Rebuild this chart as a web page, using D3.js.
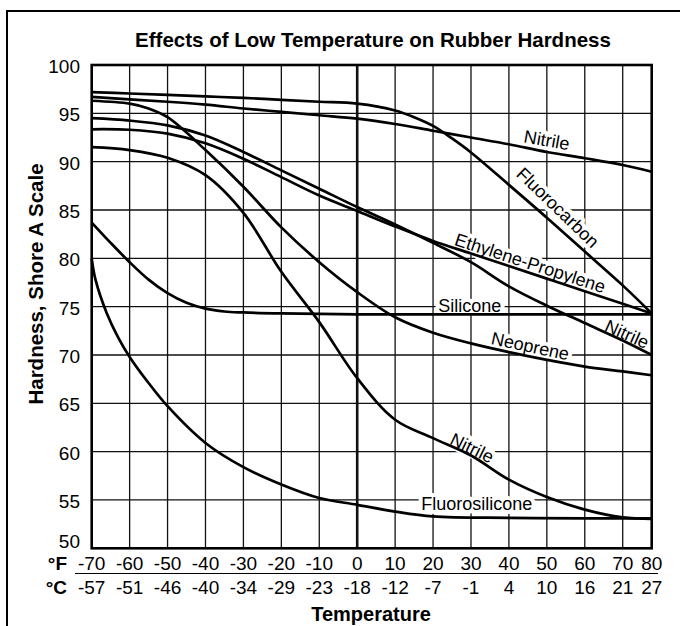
<!DOCTYPE html>
<meta charset="utf-8">
<style>
  body { margin: 0; background: #fff; }
  svg { display: block; font-family: "Liberation Sans", Arial, Helvetica, sans-serif; }
</style>
<svg width="680" height="626"></svg>
<script src="https://d3js.org/d3.v7.min.js"></script>
<script>

// tick labels
var tempF = [-70, -60, -50, -40, -30, -20, -10, 0, 10, 20, 30, 40, 50, 60, 70, 80];
var tempC = [-57, -51, -46, -40, -34, -29, -23, -18, -12, -7, -1, 4, 10, 16, 21, 27];
var hardTicks = [50, 55, 60, 65, 70, 75, 80, 85, 90, 95, 100];

// curves: [°F, Shore A]
var fluorocarbon = [[-70,97.2],[-60,97.05],[-50,96.9],[-40,96.75],[-30,96.6],[-20,96.4],[-10,96.2],[0,96.0],[10,95.3],[15,94.6],[20,93.7],[25,92.4],[30,90.95],[40,87.6],[50,84.2],[60,80.7],[70,77.2],[80,74.3]];
var nitrileTop = [[-70,96.7],[-60,96.45],[-50,96.2],[-40,95.9],[-30,95.5],[-20,95.15],[-10,94.8],[0,94.45],[10,93.9],[20,93.2],[30,92.5],[40,91.8],[50,91.0],[60,90.35],[70,89.65],[80,88.95]];
var neoprene = [[-70,96.3],[-60,96.0],[-55,95.5],[-50,94.6],[-40,91.2],[-30,87.4],[-20,83.2],[-10,79.6],[0,76.5],[10,73.9],[20,72.3],[30,71.2],[40,70.3],[50,69.5],[60,68.8],[70,68.3],[80,67.9]];
var nitrileMid = [[-70,94.5],[-60,94.25],[-50,93.75],[-40,92.7],[-30,91.0],[-20,89.1],[-10,87.2],[0,85.3],[10,83.5],[20,81.6],[30,79.6],[40,77.1],[50,75.1],[60,73.3],[70,71.5],[80,70.0]];
var ethylenePropylene = [[-70,93.35],[-60,93.3],[-50,92.9],[-40,91.9],[-30,90.3],[-20,88.4],[-10,86.5],[0,84.9],[10,83.3],[20,81.8],[30,80.5],[40,79.2],[50,77.9],[60,76.6],[70,75.3],[80,74.3]];
var nitrileLow = [[-70,91.5],[-60,91.2],[-50,90.4],[-40,88.6],[-30,84.7],[-20,78.6],[-10,73.4],[0,67.6],[10,63.3],[20,61.4],[30,59.6],[40,57.1],[50,55.3],[60,54.0],[70,53.2],[80,53.05]];
var silicone = [[-70,83.7],[-65,81.6],[-60,79.6],[-55,77.8],[-50,76.4],[-45,75.4],[-40,74.8],[-35,74.5],[-30,74.4],[-20,74.3],[0,74.2],[40,74.2],[80,74.2]];
var fluorosilicone = [[-70,80],[-69,77.8],[-66,74.3],[-63,71.8],[-60,69.8],[-55,67.1],[-50,64.7],[-40,60.9],[-30,58.4],[-20,56.6],[-10,55.2],[0,54.5],[10,53.8],[20,53.3],[40,53.15],[60,53.1],[80,53.1]];

var curves = [fluorocarbon, nitrileTop, neoprene, nitrileMid, ethylenePropylene, nitrileLow, silicone, fluorosilicone];

// curve labels: text, °F, Shore A, angle
var labelText = ["Nitrile", "Fluorocarbon", "Ethylene-Propylene", "Silicone", "Nitrile", "Neoprene", "Nitrile", "Fluorosilicone"];
var labelF = [50, 52.9, 45.6, 29.7, 71.5, 45.6, 30.3, 31.5];
var labelH = [92.24, 85.26, 79.52, 75.07, 72.17, 70.93, 60.38, 54.58];
var labelAngle = [10, 44, 18, 0, 24, 12, 26, 0];

var svg = d3.select("svg");

// the last interval (70-80) is drawn narrower in the original
var x = d3.scaleLinear().domain([-70, 70, 80]).range([91.7, 622.7, 651.7]);
var y = d3.scaleLinear().domain([50, 100]).range([548.3, 65]);

// outer frame (only top/left visible)
svg.append("rect")
    .attr("x", 7).attr("y", 11)
    .attr("width", 720).attr("height", 700)
    .attr("fill", "none").attr("stroke", "#000").attr("stroke-width", 2);

svg.append("text")
    .attr("x", 373).attr("y", 47)
    .attr("text-anchor", "middle")
    .style("font-weight", "bold").style("font-size", "20.5px")
    .text("Effects of Low Temperature on Rubber Hardness");

// grid
var grid = svg.append("g").attr("stroke", "#111");
grid.selectAll("line.v")
    .data(tempF.slice(1, -1))
    .enter().append("line")
    .attr("class", "v")
    .attr("x1", function(d) { return x(d); })
    .attr("x2", function(d) { return x(d); })
    .attr("y1", y(100)).attr("y2", y(50))
    .attr("stroke-width", function(d) { return d === 0 ? 2.6 : 1.3; });
grid.selectAll("line.h")
    .data(hardTicks.slice(1, -1))
    .enter().append("line")
    .attr("class", "h")
    .attr("x1", x(-70)).attr("x2", x(80))
    .attr("y1", function(d) { return y(d); })
    .attr("y2", function(d) { return y(d); })
    .attr("stroke-width", 1.3);

function placeLabel(sel) {
  sel.attr("transform", function(d, i) {
        return "translate(" + x(labelF[i]) + "," + y(labelH[i]) + ") rotate(" + labelAngle[i] + ")";
      })
      .attr("text-anchor", "middle")
      .attr("dy", "0.35em")
      .style("font-size", "18px")
      .text(function(d) { return d; });
}

// white knock-outs behind the labels (cut the grid)
svg.append("g").selectAll("text")
    .data(labelText)
    .enter().append("text")
    .call(placeLabel)
    .attr("fill", "#fff")
    .attr("stroke", "#fff")
    .attr("stroke-width", 8)
    .attr("stroke-linejoin", "round");

var line = d3.line()
    .x(function(d) { return x(d[0]); })
    .y(function(d) { return y(d[1]); })
    .curve(d3.curveCatmullRom.alpha(0.5));

svg.append("g").selectAll("path")
    .data(curves)
    .enter().append("path")
    .attr("d", line)
    .attr("fill", "none")
    .attr("stroke", "#000")
    .attr("stroke-width", 2.7)
    .attr("stroke-linejoin", "round");

svg.append("g").selectAll("text")
    .data(labelText)
    .enter().append("text")
    .call(placeLabel)
    .attr("fill", "#000");

// plot border
svg.append("rect")
    .attr("x", x(-70)).attr("y", y(100))
    .attr("width", x(80) - x(-70)).attr("height", y(50) - y(100))
    .attr("fill", "none").attr("stroke", "#000").attr("stroke-width", 2.6);

// y tick labels (the bottom one sits on its line to clear the °F row)
svg.append("g").selectAll("text")
    .data(hardTicks)
    .enter().append("text")
    .attr("x", 80)
    .attr("y", function(d) { return y(d); })
    .attr("dy", function(d) { return d === 50 ? "0em" : "0.42em"; })
    .attr("text-anchor", "end")
    .style("font-size", "19px")
    .text(function(d) { return d; });

// x tick labels, two rows
svg.append("g").selectAll("text")
    .data(tempF)
    .enter().append("text")
    .attr("x", function(d) { return x(d); })
    .attr("y", 569.5)
    .attr("text-anchor", "middle")
    .style("font-size", "19px")
    .text(function(d) { return d; });
svg.append("g").selectAll("text")
    .data(tempC)
    .enter().append("text")
    .attr("x", function(d, i) { return x(tempF[i]); })
    .attr("y", 593.5)
    .attr("text-anchor", "middle")
    .style("font-size", "19px")
    .text(function(d) { return d; });

svg.append("line")
    .attr("x1", 75).attr("x2", 658)
    .attr("y1", 573.5).attr("y2", 573.5)
    .attr("stroke", "#000").attr("stroke-width", 1.2);

svg.append("text")
    .attr("x", 67).attr("y", 569.5)
    .attr("text-anchor", "end")
    .style("font-weight", "bold").style("font-size", "19px")
    .text("°F");
svg.append("text")
    .attr("x", 67).attr("y", 593.5)
    .attr("text-anchor", "end")
    .style("font-weight", "bold").style("font-size", "19px")
    .text("°C");

// axis titles
svg.append("text")
    .attr("x", 371).attr("y", 621)
    .attr("text-anchor", "middle")
    .style("font-weight", "bold").style("font-size", "20px")
    .text("Temperature");
svg.append("text")
    .attr("transform", "translate(43,284) rotate(-90)")
    .attr("text-anchor", "middle")
    .style("font-weight", "bold").style("font-size", "20.5px")
    .text("Hardness, Shore A Scale");

</script>
